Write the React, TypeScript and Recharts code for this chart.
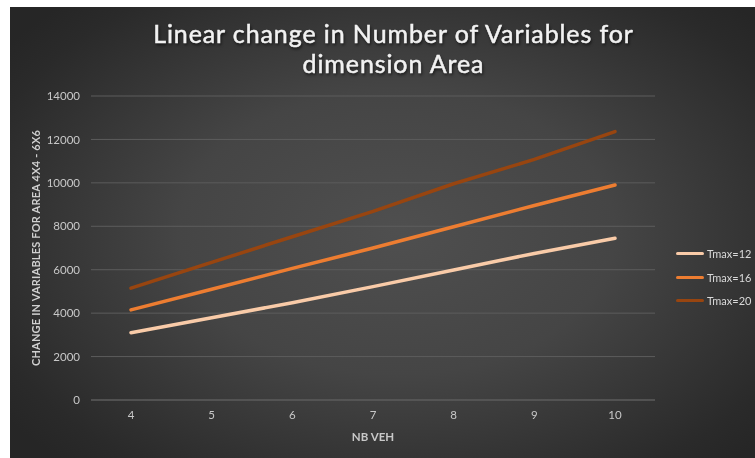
import React from 'react';
import { CartesianGrid, Legend, Line, LineChart, XAxis, YAxis } from 'recharts';

const nbVeh = [4, 5, 6, 7, 8, 9, 10];
const tmax12 = [3100, 3790, 4480, 5220, 5990, 6750, 7450];
const tmax16 = [4150, 5100, 6060, 7000, 7980, 8960, 9900];
const tmax20 = [5150, 6340, 7520, 8690, 9960, 11080, 12360];
const yTicks = [0, 2000, 4000, 6000, 8000, 10000, 12000, 14000];

const seriesList = [
  { key: 'tmax12', name: 'Tmax=12', color: '#f9cba8' },
  { key: 'tmax16', name: 'Tmax=16', color: '#ed7d31' },
  { key: 'tmax20', name: 'Tmax=20', color: '#984510' },
];

const data = nbVeh.map((nb, i) => ({
  nb,
  tmax12: tmax12[i],
  tmax16: tmax16[i],
  tmax20: tmax20[i],
}));

const font = 'Lato, "Open Sans", sans-serif';

function LegendBox(): JSX.Element {
  return (
    <div style={{ fontFamily: font, fontSize: 11, color: '#d9d9d9' }}>
      {seriesList.map((s) => (
        <div key={s.key} style={{ display: 'flex', alignItems: 'center', height: 23.5 }}>
          <span
            style={{
              display: 'inline-block',
              width: 28,
              height: 3,
              borderRadius: 2,
              background: s.color,
              marginRight: 3,
            }}
          />
          <span style={{ whiteSpace: 'nowrap' }}>{s.name}</span>
        </div>
      ))}
    </div>
  );
}

export default function App(): JSX.Element {
  return (
    <div
      style={{
        position: 'fixed',
        left: 10,
        top: 7,
        width: 745,
        height: 451,
        overflow: 'hidden',
        background:
          'radial-gradient(ellipse 65% 70% at 52% 50%, #4f4f4f 0%, #454545 45%, #2a2a2a 90%, #262626 100%)',
        fontFamily: font,
      }}
    >
      <div
        style={{
          position: 'absolute',
          left: 11,
          top: 11,
          width: 745,
          textAlign: 'center',
          color: '#f2f2f2',
          fontSize: 25,
          lineHeight: '30px',
          fontWeight: 'normal',
          letterSpacing: 0.9,
          WebkitTextStroke: '0.5px #f2f2f2',
          textShadow: '1px 2px 3px rgba(0,0,0,0.7)',
        }}
      >
        Linear change in Number of Variables for
        <br />
        dimension Area
      </div>
      <LineChart
        width={745}
        height={451}
        data={data}
        margin={{ top: 89, right: 100, bottom: 13, left: 0 }}
      >
        <CartesianGrid vertical={false} stroke="#5c5c5c" strokeWidth={1} />
        <XAxis
          dataKey="nb"
          type="category"
          padding={{ left: 40, right: 40 }}
          axisLine={{ stroke: '#5c5c5c' }}
          tickLine={false}
          tickSize={0}
          tickMargin={11}
          height={45}
          tick={{ fill: '#c8c8c8', fontSize: 11.5, fontFamily: font }}
          label={{
            value: 'NB VEH',
            position: 'insideBottom',
            offset: 4,
            fill: '#c8c8c8',
            fontSize: 11.5,
            fontWeight: 700,
            fontFamily: font,
          }}
        />
        <YAxis
          width={81}
          domain={[0, 14000]}
          ticks={yTicks}
          axisLine={false}
          tickLine={false}
          tickSize={0}
          tickMargin={11}
          tick={{ fill: '#c8c8c8', fontSize: 11.5, fontFamily: font }}
          label={{
            value: 'CHANGE IN VARIABLES FOR AREA 4X4 - 6X6',
            angle: -90,
            position: 'insideLeft',
            offset: 26,
            fill: '#d0d0d0',
            fontSize: 11,
            fontWeight: 700,
            fontFamily: font,
            style: { textAnchor: 'middle', letterSpacing: 0.2 },
          }}
        />
        <Legend
          layout="vertical"
          align="center"
          verticalAlign="middle"
          content={() => <LegendBox />}
          wrapperStyle={{ left: 666, top: 235, width: 90 }}
        />
        {seriesList.map((s) => (
          <Line
            key={s.key}
            type="linear"
            dataKey={s.key}
            name={s.name}
            stroke={s.color}
            strokeWidth={3.5}
            strokeLinecap="round"
            dot={false}
            activeDot={false}
            isAnimationActive={false}
          />
        ))}
      </LineChart>
    </div>
  );
}
